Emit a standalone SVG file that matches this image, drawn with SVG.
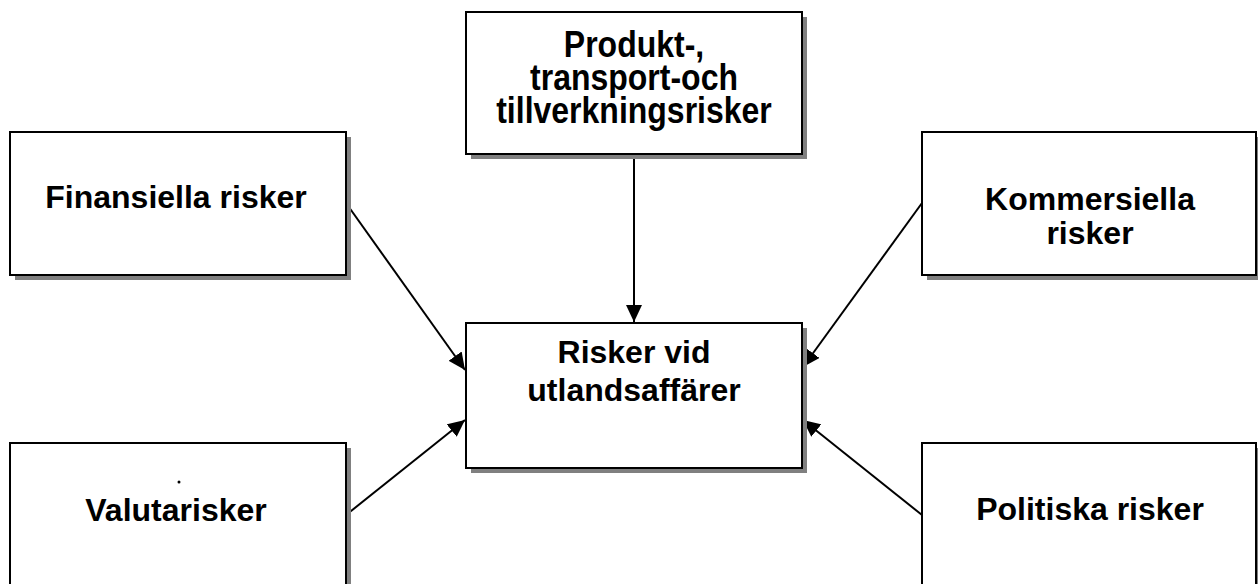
<svg xmlns="http://www.w3.org/2000/svg" width="1258" height="584" viewBox="0 0 1258 584">
<style>
.shadow{fill:#808080;stroke:none}
.box{fill:#fff;stroke:#000;stroke-width:2}
.lbl{font-family:"Liberation Sans",Arial,sans-serif;font-weight:bold;font-size:32px;fill:#000;text-anchor:middle}
.conn{stroke:#000;stroke-width:2;fill:none}
</style>
<defs>
<marker id="arrow" markerUnits="userSpaceOnUse" markerWidth="18" markerHeight="16" viewBox="0 0 18 16" refX="17" refY="8" orient="auto">
<path d="M0,0 L17,8 L0,16 Z" fill="#000"/>
</marker>
</defs>
<rect width="1258" height="584" fill="#fff"/>
<g id="connectors">
<line class="conn" x1="634" y1="154" x2="634" y2="322" marker-end="url(#arrow)"/>
<line class="conn" x1="346" y1="203" x2="465" y2="370" marker-end="url(#arrow)"/>
<line class="conn" x1="922" y1="203" x2="803" y2="367" marker-end="url(#arrow)"/>
<line class="conn" x1="346" y1="515" x2="465" y2="420" marker-end="url(#arrow)"/>
<line class="conn" x1="922" y1="515" x2="803" y2="420" marker-end="url(#arrow)"/>
</g>
<g id="node-produkt">
<rect class="shadow" x="471" y="17" width="336" height="142"/>
<rect class="box" x="466" y="12" width="336" height="142"/>
<text class="lbl" transform="translate(634,57) scale(1,1.15)">Produkt-,</text>
<text class="lbl" transform="translate(634,90) scale(1,1.15)">transport-och</text>
<text class="lbl" transform="translate(634,123) scale(1,1.15)">tillverkningsrisker</text>
</g>
<g id="node-finansiella">
<rect class="shadow" x="15" y="137" width="336" height="143"/>
<rect class="box" x="10" y="132" width="336" height="143"/>
<text class="lbl" x="176" y="208">Finansiella risker</text>
</g>
<g id="node-kommersiella">
<rect class="shadow" x="927" y="137" width="336" height="143"/>
<rect class="box" x="922" y="132" width="334" height="143"/>
<text class="lbl" x="1090" y="210">Kommersiella</text>
<text class="lbl" x="1090" y="244">risker</text>
</g>
<g id="node-center">
<rect class="shadow" x="471" y="328" width="336" height="145"/>
<rect class="box" x="466" y="323" width="336" height="145"/>
<text class="lbl" x="634" y="363">Risker vid</text>
<text class="lbl" x="634" y="401">utlandsaffärer</text>
</g>
<g id="node-valutarisker">
<rect class="shadow" x="15" y="448" width="336" height="143"/>
<rect class="box" x="10" y="443" width="336" height="143"/>
<text class="lbl" x="176" y="521">Valutarisker</text>
<circle cx="179" cy="482" r="1.5" fill="#000"/>
</g>
<g id="node-politiska">
<rect class="shadow" x="927" y="448" width="336" height="143"/>
<rect class="box" x="922" y="443" width="334" height="143"/>
<text class="lbl" x="1090" y="520">Politiska risker</text>
</g>
</svg>
